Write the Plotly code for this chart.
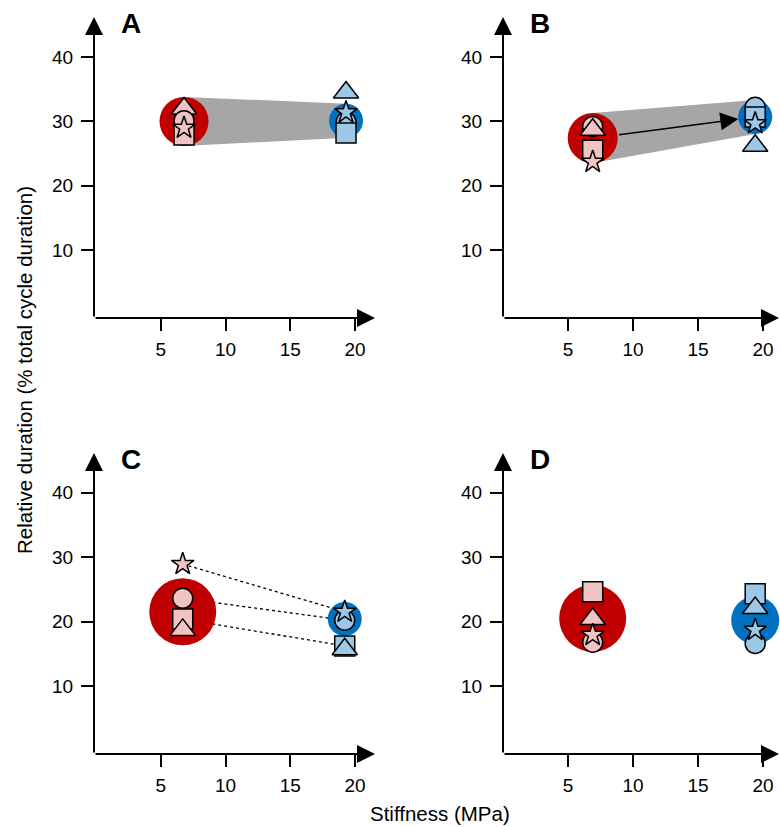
import plotly.graph_objects as go

W, H = 780, 827

# ---------------- data ----------------
panel_labels = ["A", "B", "C", "D"]
x_tick_vals = [5, 10, 15, 20]
y_tick_vals = [10, 20, 30, 40]
x_title = "Stiffness (MPa)"
y_title = "Relative duration (% total cycle duration)"

symbols = ["triangle-up", "circle", "square", "star"]

soft_mean_x = [6.8, 6.9, 6.7, 6.9]
soft_mean_y = [30.0, 27.4, 21.5, 20.5]
stiff_mean_x = [19.3, 19.4, 19.2, 19.4]
stiff_mean_y = [30.1, 30.7, 20.4, 20.2]
soft_mean_size = [49, 50, 67, 67]
stiff_mean_size = [34, 34, 34, 48]

# individual values, same order as `symbols`
soft_A = [32.0, 30.1, 27.9, 29.0]
stiff_A = [34.5, 29.9, 28.2, 31.4]
soft_B = [28.7, 29.2, 25.5, 23.7]
stiff_B = [26.2, 32.2, 30.7, 29.7]
soft_C = [18.7, 23.6, 20.4, 28.9]
stiff_C = [15.7, 20.2, 16.2, 21.5]
soft_D = [20.4, 16.8, 24.6, 17.9]
stiff_D = [22.1, 16.6, 24.3, 18.7]

soft_ind = [soft_A, soft_B, soft_C, soft_D]
stiff_ind = [stiff_A, stiff_B, stiff_C, stiff_D]

# ---------------- style / layout ----------------
RED = "#C00000"
BLUE = "#0070C0"
RED_FILL = "#F1C3C3"
BLUE_FILL = "#9DC7E7"
GREY = "#A6A6A6"
FONT = "Liberation Sans, Arial, sans-serif"

sym_size = {"triangle-up": 22, "circle": 20, "square": 20, "star": 17}
draw_order = [[0, 1, 2, 3], [1, 0, 2, 3], [1, 2, 0, 3], [1, 2, 0, 3]]

# pixel geometry of each panel: (left, right, top, bottom, x0px, xppu, y0px, yppu)
geom = [
    (94, 375, 17, 318, 95.9, 12.96, 314.3, 6.43),
    (503, 780, 17, 318, 503.0, 13.0, 314.3, 6.43),
    (94, 375, 453, 754, 95.9, 12.96, 750.5, 6.45),
    (503, 780, 453, 754, 503.0, 13.0, 750.5, 6.45),
]

fig = go.Figure()
annotations = []

for i in range(4):
    L, R, T, B, x0, xp, y0, yp = geom[i]
    sfx = "" if i == 0 else str(i + 1)
    xa, ya = "x" + sfx, "y" + sfx

    rs = soft_mean_size[i] / 2 / yp
    rb = stiff_mean_size[i] / 2 / yp

    # grey band (A, B)
    if i in (0, 1):
        fig.add_trace(go.Scatter(
            x=[soft_mean_x[i], stiff_mean_x[i], stiff_mean_x[i], soft_mean_x[i]],
            y=[soft_mean_y[i] + rs, stiff_mean_y[i] + rb, stiff_mean_y[i] - rb, soft_mean_y[i] - rs],
            fill="toself", fillcolor=GREY, mode="lines", line=dict(width=0, color=GREY),
            xaxis=xa, yaxis=ya, hoverinfo="skip", showlegend=False))

    # dotted connecting lines (C)
    if i == 2:
        for k in (3, 1, 2):
            fig.add_trace(go.Scatter(
                x=[soft_mean_x[i], stiff_mean_x[i]], y=[soft_ind[i][k], stiff_ind[i][k]],
                mode="lines", line=dict(color="black", width=1.3, dash="dot"),
                xaxis=xa, yaxis=ya, hoverinfo="skip", showlegend=False))

    # mean circles
    fig.add_trace(go.Scatter(
        x=[soft_mean_x[i], stiff_mean_x[i]], y=[soft_mean_y[i], stiff_mean_y[i]],
        mode="markers",
        marker=dict(size=[soft_mean_size[i], stiff_mean_size[i]], color=[RED, BLUE],
                    opacity=1, line=dict(width=0)),
        xaxis=xa, yaxis=ya, showlegend=False))

    # individual markers
    order = draw_order[i]
    for mx, vals, fc in ((soft_mean_x[i], soft_ind[i], RED_FILL),
                         (stiff_mean_x[i], stiff_ind[i], BLUE_FILL)):
        fig.add_trace(go.Scatter(
            x=[mx] * 4, y=[vals[k] for k in order], mode="markers",
            marker=dict(symbol=[symbols[k] for k in order],
                        size=[sym_size[symbols[k]] for k in order],
                        color=fc, opacity=1, line=dict(color="black", width=1.5)),
            xaxis=xa, yaxis=ya, showlegend=False))

    # axes
    fig.layout["xaxis" + sfx] = dict(
        domain=[L / W, R / W], range=[(L - x0) / xp, (R - x0) / xp], anchor=ya,
        showgrid=False, zeroline=False, showline=False,
        tickmode="array", tickvals=x_tick_vals, ticks="outside", ticklen=12, tickwidth=2,
        tickcolor="black", tickfont=dict(size=19, color="black", family=FONT),
        ticklabelstandoff=2)
    fig.layout["yaxis" + sfx] = dict(
        domain=[1 - B / H, 1 - T / H], range=[(y0 - B) / yp, (y0 - T) / yp], anchor=xa,
        showgrid=False, zeroline=False, showline=False,
        tickmode="array", tickvals=y_tick_vals, ticks="outside", ticklen=12, tickwidth=2,
        tickcolor="black", tickfont=dict(size=19, color="black", family=FONT),
        ticklabelstandoff=4)

    # axis arrows
    tip_x = R + 3 if i in (1, 3) else R
    annotations.append(dict(xref="paper", yref="paper", x=tip_x / W, y=1 - B / H,
                            ax=-(tip_x - L), ay=0, text="", showarrow=True,
                            arrowhead=2, arrowwidth=2, arrowsize=1.8, arrowcolor="black"))
    annotations.append(dict(xref="paper", yref="paper", x=L / W, y=1 - T / H,
                            ax=0, ay=(B - T), text="", showarrow=True,
                            arrowhead=2, arrowwidth=2, arrowsize=1.8, arrowcolor="black"))

    # panel letter
    annotations.append(dict(xref="paper", yref="paper", x=(L + 37) / W, y=1 - (T + 6) / H,
                            text="<b>%s</b>" % panel_labels[i], showarrow=False,
                            xanchor="center", yanchor="middle",
                            font=dict(size=28, color="black", family=FONT)))

    # arrow between means (B)
    if i == 1:
        annotations.append(dict(xref=xa, yref=ya, x=stiff_mean_x[i], y=stiff_mean_y[i],
                                axref=xa, ayref=ya, ax=soft_mean_x[i], ay=soft_mean_y[i],
                                text="", showarrow=True, arrowhead=2, arrowwidth=1.5,
                                arrowsize=2.4, arrowcolor="black",
                                standoff=stiff_mean_size[i] / 2,
                                startstandoff=soft_mean_size[i] / 2))

annotations.append(dict(xref="paper", yref="paper", x=24 / W, y=1 - 370 / H,
                        text=y_title, textangle=-90, showarrow=False,
                        xanchor="center", yanchor="middle",
                        font=dict(size=20.5, color="black", family=FONT)))
annotations.append(dict(xref="paper", yref="paper", x=440 / W, y=1 - 813 / H,
                        text=x_title, showarrow=False, xanchor="center", yanchor="middle",
                        font=dict(size=20.5, color="black", family=FONT)))

fig.update_layout(width=W, height=H, margin=dict(l=0, r=0, t=0, b=0),
                  plot_bgcolor="white", paper_bgcolor="white",
                  font=dict(family=FONT, color="black"),
                  annotations=annotations, showlegend=False)

fig.write_html("out.html", config={"displayModeBar": False},
               post_script="document.body.style.margin='0';document.body.style.overflow='hidden';")
